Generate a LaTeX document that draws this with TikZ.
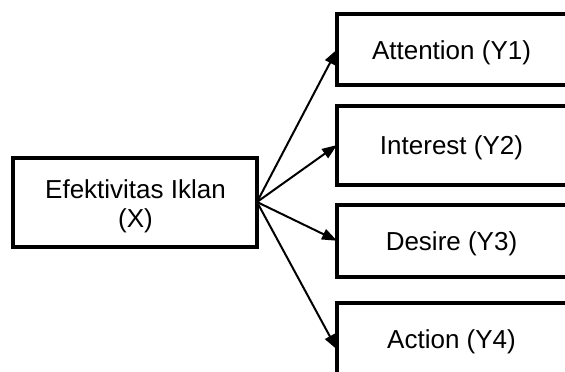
\documentclass[tikz,border=0pt]{standalone}
\usepackage{fontspec}
\setmainfont{Liberation Sans}
\usetikzlibrary{arrows.meta}
\begin{document}
\begin{tikzpicture}[x=1pt,y=-1pt,
  box/.style={draw=black,line width=4pt,inner sep=0pt,outer sep=0pt},
  ybox/.style={box,minimum width=233pt},
  txt/.style={inner sep=0pt,align=center,font=\fontsize{26}{29}\selectfont},
  conn/.style={line width=2pt,-{Triangle[length=15pt,width=11pt]}}]
\useasboundingbox (0,0) rectangle (565,372);
\clip (0,0) rectangle (565,372);
\node[box,minimum width=244pt,minimum height=89pt] (X) at (135,202.5) {};
\node[ybox,minimum height=71pt] (Y1) at (453.5,49.5) {};
\node[ybox,minimum height=79pt] (Y2) at (453.5,145) {};
\node[ybox,minimum height=72.5pt] (Y3) at (453.5,240.75) {};
\node[ybox,minimum height=72pt] (Y4) at (453.5,338.5) {};
\node[txt] (tX) at ([yshift=-3.5pt,xshift=0.5pt]X.center) {Efektivitas Iklan\\(X)};
\node[txt] (t1) at ([yshift=-3pt,xshift=-2pt]Y1.center) {Attention (Y1)};
\node[txt] (t2) at ([yshift=-3pt,xshift=-2pt]Y2.center) {Interest (Y2)};
\node[txt] (t3) at ([yshift=-3pt,xshift=-2pt]Y3.center) {Desire (Y3)};
\node[txt] (t4) at ([yshift=-3pt,xshift=-2pt]Y4.center) {Action (Y4)};
\coordinate (o) at ([yshift=0.5pt]X.east);
\draw[conn] (o) -- (Y1.west);
\draw[conn] (o) -- (Y2.west);
\draw[conn] (o) -- (Y3.west);
\draw[conn] (o) -- ([yshift=-11pt]Y4.west);
\end{tikzpicture}
\end{document}
